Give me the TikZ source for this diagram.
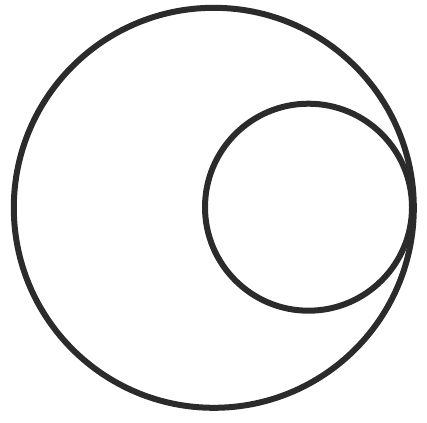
\documentclass[tikz,border=0pt]{standalone}
\definecolor{ringgray}{RGB}{43,43,43}

\begin{document}
\begin{tikzpicture}[x=1pt,y=1pt,yscale=-1,xscale=1,ring/.style={draw=ringgray,line width=6pt}]
		\useasboundingbox (0,0) rectangle (427,422);
		\draw [ring]   (213.8,207.8) circle (200) ;
		\draw [ring]   (308.5,207.2) circle (103.5) ;
		\end{tikzpicture}
\end{document}
